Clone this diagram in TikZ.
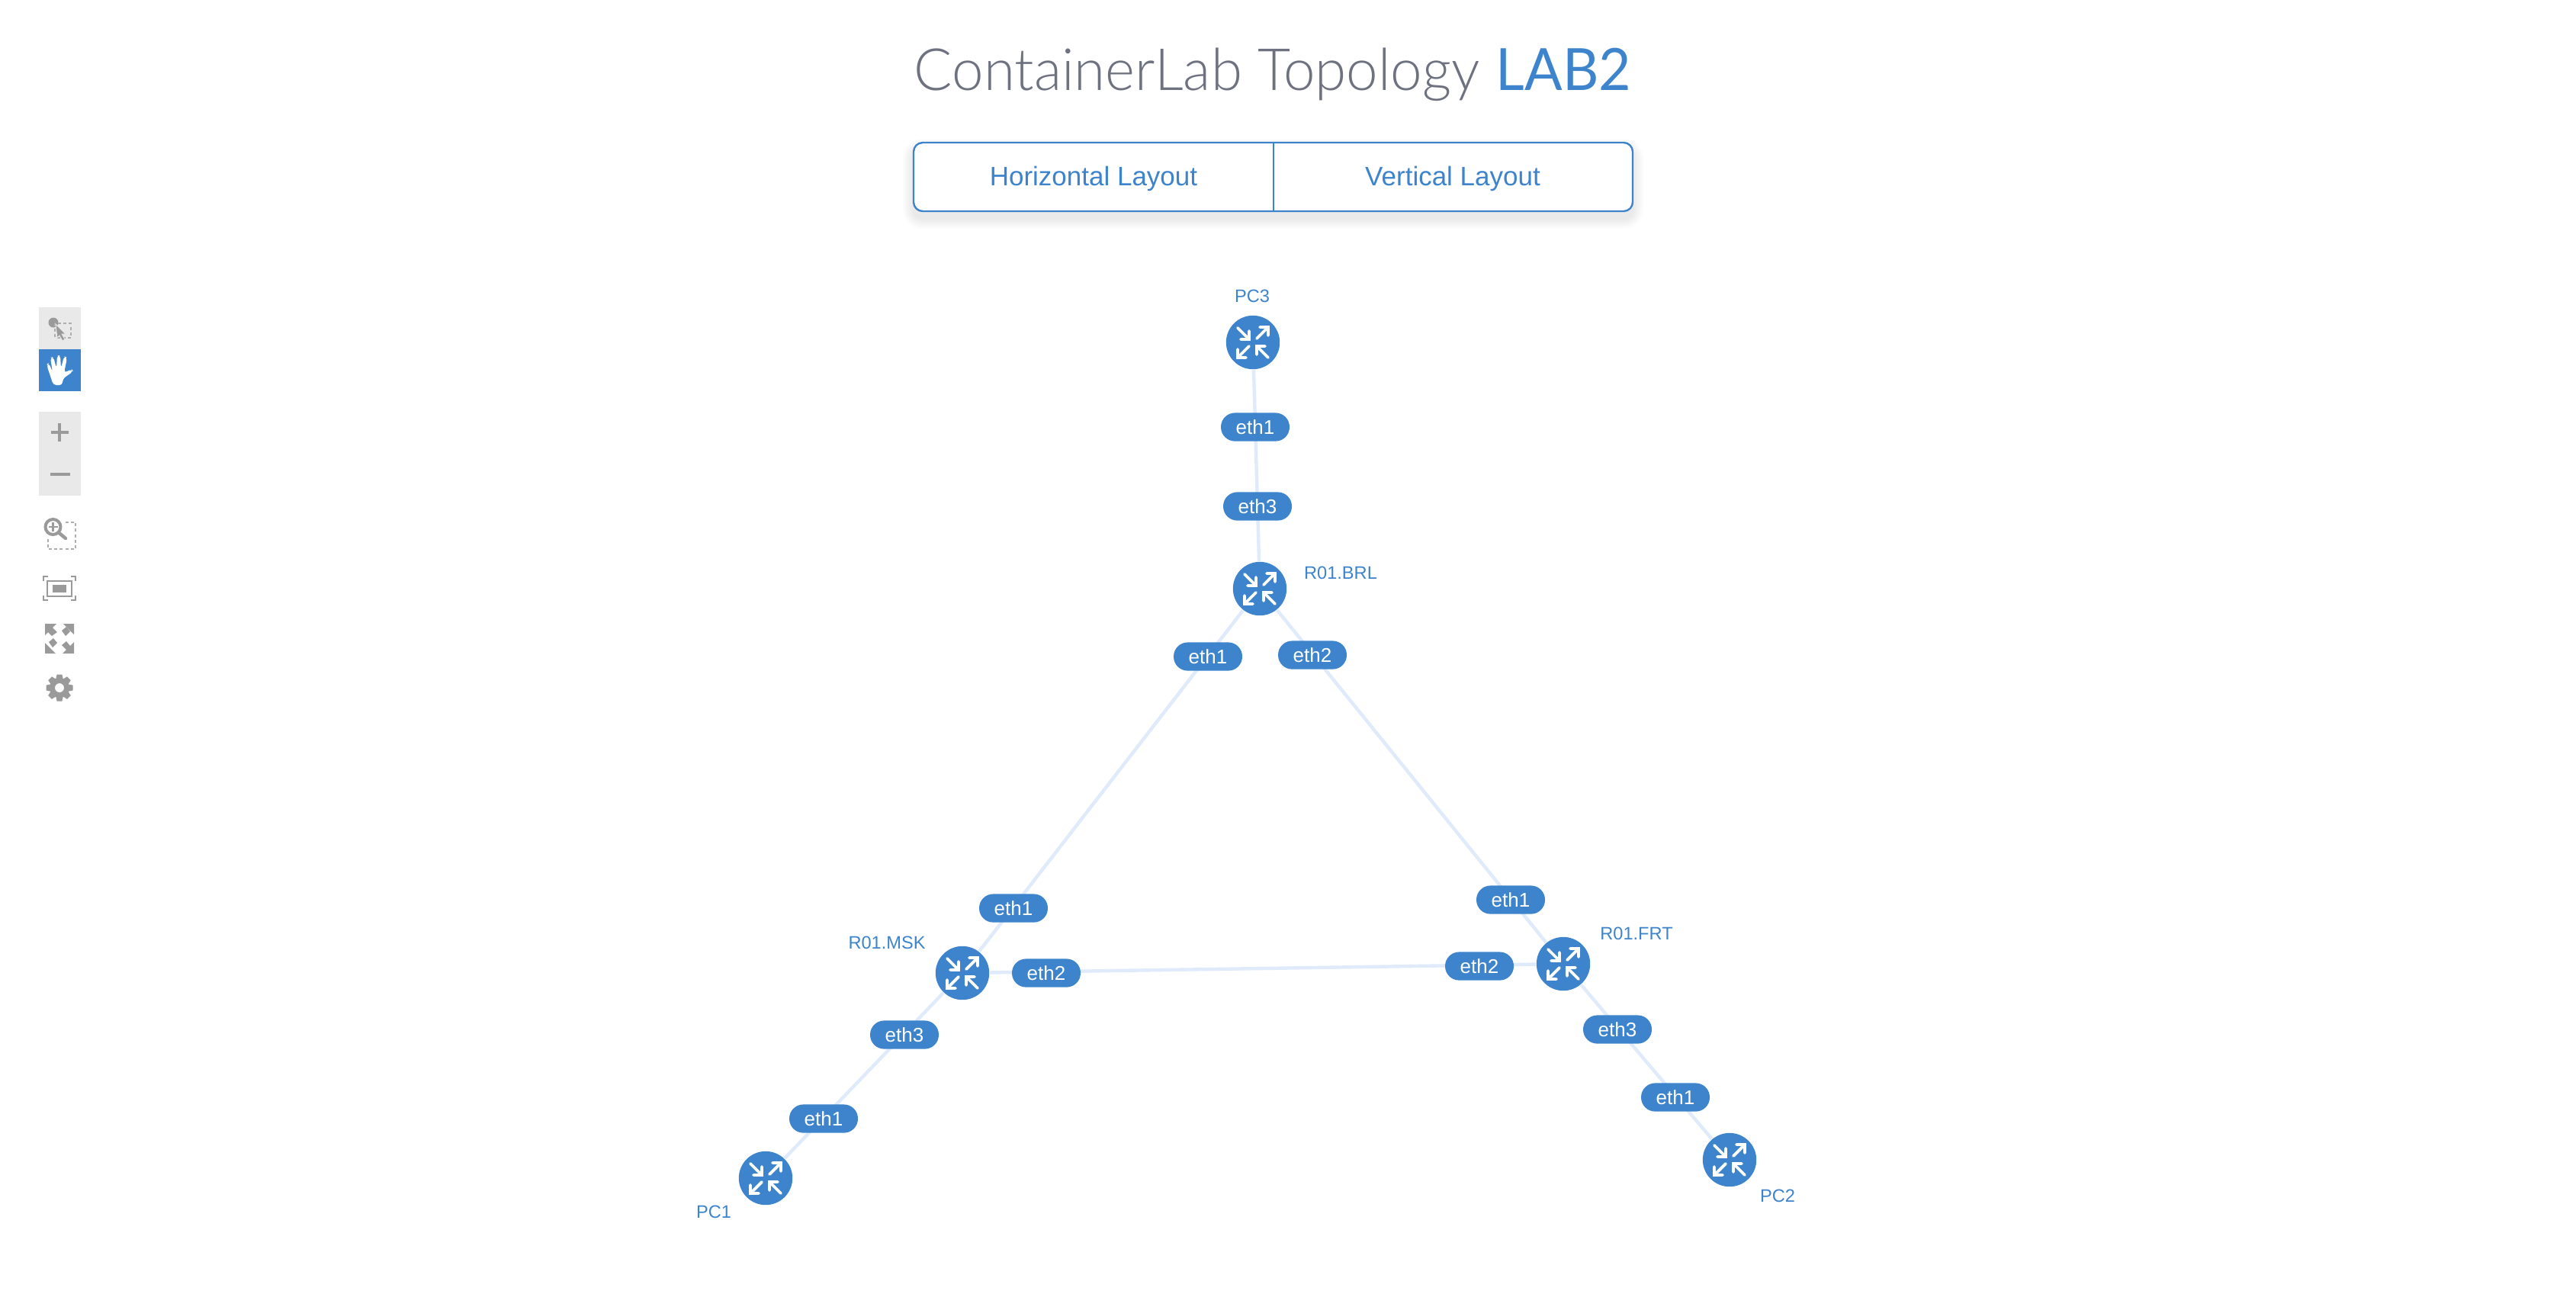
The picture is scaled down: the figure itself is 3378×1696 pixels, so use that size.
\documentclass[tikz,border=0pt]{standalone}
\usepackage{fontspec}
\setmainfont{Liberation Sans}
\newfontfamily\lightfont[FakeStretch=0.975]{Lato Light}
\newfontfamily\regfont[FakeStretch=0.96]{Lato}
\usetikzlibrary{backgrounds,calc}
\definecolor{cblue}{HTML}{3D84CC}
\definecolor{clink}{HTML}{DFEAFB}
\definecolor{ctitle}{HTML}{6E7280}
\definecolor{cicon}{HTML}{9A9A9A}
\definecolor{cbar}{HTML}{E9E9E9}
\tikzset{
  x=0.25pt,y=-0.25pt,
  device/.style={circle,fill=cblue,minimum size=17.6pt,inner sep=0pt},
  pill/.style={rounded corners=4.6pt,fill=cblue,text=white,minimum width=22.5pt,minimum height=9.3pt,inner sep=0pt,font=\fontsize{6.5}{7}\selectfont},
  hostname/.style={text=cblue,inner sep=0pt,font=\fontsize{5.9}{7}\selectfont},
  link/.style={draw=clink,line width=1.1pt},
  glyph/.style={draw=white,line width=0.95pt,line cap=round,line join=miter},
  btn/.style={text=cblue,inner sep=0pt,font=\fontsize{8.75}{11}\selectfont},
  toolline/.style={draw=cicon,line width=1pt},
  tooldash/.style={draw=cicon!80,line width=0.45pt,dash pattern=on 1pt off 0.8pt},
  rsticon/.pic={
    \draw[glyph] (-20,-19)--(-5,-4) (-5,-15)--(-5,-4)--(-16,-4);
    \draw[glyph] (5,-5)--(20,-20) (9,-20)--(20,-20)--(20,-9);
    \draw[glyph] (-5,5)--(-20,20) (-20,9)--(-20,20)--(-9,20);
    \draw[glyph] (20,20)--(5,5) (5,16)--(5,5)--(16,5);
  },
}
\begin{document}
\begin{tikzpicture}
\useasboundingbox (0,0) rectangle (3378,1696);
% title
\node[anchor=base west,inner sep=0pt,text=ctitle,font=\lightfont\fontsize{19.1}{24}\selectfont] (title) at (1198,118) {ContainerLab Topology};
\node[anchor=base east,inner sep=0pt,text=cblue,font=\regfont\fontsize{19.1}{24}\selectfont] (lab) at (2140,118) {LAB2};
% buttons
\foreach \s in {14,12,10,8,6,4,2}{
  \fill[black,opacity=0.012,rounded corners=3pt+\s*0.25pt] (1198-\s,187+9-\s) rectangle (2141+\s,277+9+\s);
}
\fill[white,rounded corners=3pt] (1198,187) rectangle (2141,277);
\coordinate (bartl) at (1198,187);
\coordinate (barbr) at (2141,277);
\coordinate (divtop) at (1670,187);
\coordinate (divbot) at (1670,277);
\draw[cblue,line width=0.6pt,rounded corners=3pt] (bartl) rectangle (barbr);
\draw[cblue,line width=0.6pt] (divtop)--(divbot);
\node[btn,anchor=base] (hl) at (1434,243) {Horizontal Layout};
\node[btn,anchor=base] (vl) at (1905,243) {Vertical Layout};
% devices
\node[device] (pc3) at (1643,449) {};
\node[device] (brl) at (1652,772) {};
\node[device] (msk) at (1262,1276) {};
\node[device] (frt) at (2050,1264) {};
\node[device] (pc1) at (1004,1545) {};
\node[device] (pc2) at (2268,1521) {};
\foreach \n in {pc3,brl,msk,frt,pc1,pc2}{ \pic at (\n) {rsticon}; }
% links
\begin{scope}[on background layer]
\draw[link] (pc3)--(brl);
\draw[link] (brl)--(msk);
\draw[link] (brl)--(frt);
\draw[link] (msk)--(frt);
\draw[link] (msk)--(pc1);
\draw[link] (frt)--(pc2);
\end{scope}
% interface pills
\node[pill] (p1) at (1646,560) {eth1};
\node[pill] (p2) at (1649,664) {eth3};
\node[pill] (p3) at (1584,861) {eth1};
\node[pill] (p4) at (1721,859) {eth2};
\node[pill] (p5) at (1329,1191) {eth1};
\node[pill] (p6) at (1372,1276) {eth2};
\node[pill] (p7) at (1186,1357) {eth3};
\node[pill] (p8) at (1080,1467) {eth1};
\node[pill] (p9) at (1981,1180) {eth1};
\node[pill] (p10) at (1940,1267) {eth2};
\node[pill] (p11) at (2121,1350) {eth3};
\node[pill] (p12) at (2197,1439) {eth1};
% host names
\node[hostname] (lpc3) at (1642,388) {PC3};
\node[hostname] (lbrl) at (1758,751) {R01.BRL};
\node[hostname] (lmsk) at (1163,1236) {R01.MSK};
\node[hostname] (lpc1) at (936,1589) {PC1};
\node[hostname] (lfrt) at (2146,1224) {R01.FRT};
\node[hostname] (lpc2) at (2331,1568) {PC2};
% toolbar
\fill[cbar] (51,403) rectangle (106,458);
\fill[cblue] (51,458) rectangle (106,513);
\fill[cbar] (51,540) rectangle (106,650);
% select icon
\fill[cicon] (70,423) circle[radius=6.5];
\draw[tooldash] (72,424) rectangle (93,443);
\fill[cicon,draw=cbar,line width=0.2pt] (73,425)--(86,438)--(81,438)--(85,445)--(82,447)--(78,440)--(75,443)--cycle;
% hand icon
\fill[white,rounded corners=1pt] (70,505)--(82,505)--(82,497)--(96,487)--(94,484)--(84,489)--(88,469)--(84,467)--(80,483)--(79,466)--(75,466)--(74,483)--(70,468)--(66,469)--(69,488)--(64,476)--(61,478)--cycle;
% plus minus
\fill[cicon] (67,565) rectangle (90,569);
\fill[cicon] (76,555) rectangle (80,579);
\fill[cicon] (66,620) rectangle (92,624);
% zoom icon
\draw[tooldash] (63,685) rectangle (99,720);
\fill[white] (56,677) rectangle (83,705);
\draw[toolline] (69.5,691) circle[radius=10];
\draw[cicon,line width=1.1pt,line cap=round] (77,698.5)--(86,706);
\fill[cicon] (63.5,689.7) rectangle (75.5,692.3);
\fill[cicon] (68.2,685) rectangle (70.8,697);
% fit icon
\draw[cicon,line width=0.4pt] (57,762)--(57,756)--(63,756) (93,756)--(99,756)--(99,762) (57,781)--(57,787)--(63,787) (93,787)--(99,787)--(99,781);
\draw[cicon,line width=0.5pt] (62,762) rectangle (94,782);
\fill[cicon] (69,767) rectangle (87,777);
% expand icon
\fill[cicon] (59,818)--(74,818)--(69,823)--(75,829)--(68,834)--(63,829)--(59,833)--cycle;
\fill[cicon] (97,818)--(83,818)--(97,832)--cycle;
\fill[cicon] (81,827)--(87,822)--(92,828)--(86,834)--cycle;
\fill[cicon] (59,857)--(59,843)--(73,857)--cycle;
\fill[cicon] (64,842)--(70,837)--(75,843)--(69,849)--cycle;
\fill[cicon] (97,857)--(97,842)--(92,847)--(87,841)--(81,846)--(87,852)--(82,857)--cycle;
% gear
\foreach \t in {0,45,...,315}{
  \fill[cicon,shift={(78,902)},rotate=\t] (10,-5)--(17.5,-3.4)--(17.5,3.4)--(10,5)--cycle;
}
\fill[cicon,even odd rule] (78,902) circle[radius=13] (78,902) circle[radius=6];
\end{tikzpicture}
\end{document}
